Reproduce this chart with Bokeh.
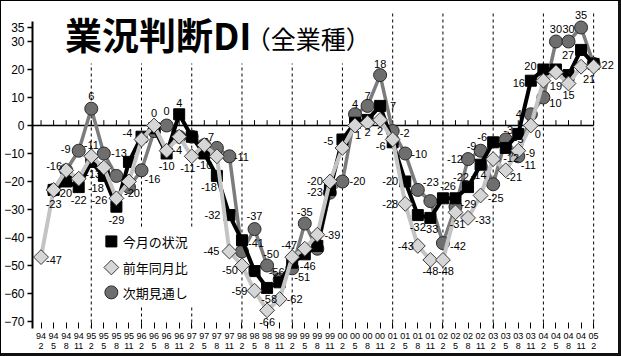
import math
from bokeh.plotting import figure
from bokeh.models import (FixedTicker, Range1d, BoxAnnotation, Label, ColumnDataSource)
from bokeh.embed import file_html
from bokeh.resources import INLINE
from bokeh.core.properties import value

NaN = float("nan")

# ---- categories (quarterly survey months, 94/2 .. 05/2)
years = ["94", "95", "96", "97", "98", "99", "00", "01", "02", "03", "04", "05"]
months = ["2", "5", "8", "11"]
periods = [(y, m) for y in years for m in months][:45]

# ---- series values
current = [NaN, -23, -20, -22, -13, -18, -29, -13, -4, -1, -10, 4, -4, -10, -18,
           -32, -41, -52, -58, -56, -49, -46, -43, -23, -5, 1, 2, 7, -6, -20,
           -32, -33, -26, -26, -22, -14, -6, -8, -3, 16, 20, 20, 18, 27, 22]
yoy = [-47, -23, -16, -19, -11, -15, -26, -20, -5, 0, -9, -4, -11, -7, -11,
       -45, -50, -59, -66, -62, -47, -44, -39, -20, -8, 0, 1, 2, -5, -28,
       -43, -48, -48, -31, -33, -25, -12, -16, -9, 0, 16, 19, 15, 21, 21]
outlook = [NaN, -23, -16, -9, 6, -10, -18, -22, -16, -2, 0, -4, -4, -7, -8,
           -11, -45, -37, -50, -55, -51, -35, -44, -24, -20, 4, 7, 18, -2, -10,
           -23, -27, -42, -29, -12, -9, -21, -5, -11, 4, 10, 30, 30, 35, 22]

series_names = ["今月の状況", "前年同月比", "次期見通し"]
y_ticks = [-70, -60, -50, -40, -30, -20, -10, 0, 10, 20, 30, 35]

# ---- label placement (layout only: index, dx px, dy px)
cur_lbl = [(1, 0, 14), (2, -2, 12), (3, 0, 13), (4, 2, 12), (5, -8, 12), (6, 0, 13),
           (7, -10, -9), (8, -14, -4), (10, 0, 13), (11, 0, -11), (13, 0, 12),
           (14, -8, 11), (15, -17, 0), (16, 14, 3), (18, 2, 11), (19, -3, -10),
           (21, 3, 12), (23, -15, 2), (24, -14, 2), (25, 3, 12), (26, 0, 12),
           (27, 13, 0), (28, -12, 4), (29, -15, 0), (30, 0, 12), (31, 0, 11),
           (32, 5, -12), (34, -7, -10), (35, -2, 10), (36, -11, -5), (38, -10, -4),
           (39, -12, 2), (40, -13, -3), (43, -13, 5)]
yoy_lbl = [(0, 13, 3), (2, -12, -4), (4, 0, -11), (6, -17, 2), (7, 3, 12), (9, 0, -12),
           (11, -2, 13), (12, -4, 12), (13, 5, -8), (15, -18, 0), (16, -12, 5),
           (17, -15, 0), (18, 0, 12), (19, 15, 0), (20, -3, -12), (22, 15, 0),
           (23, -15, 0), (27, 0, 11), (29, -15, 0), (30, -12, 0), (31, 0, 11),
           (32, 3, 11), (33, 2, 12), (34, 15, 2), (35, 15, 3), (36, 18, -1),
           (38, 12, 2), (39, 7, 9), (41, 0, 14), (42, 0, 12), (43, 8, 12)]
out_lbl = [(3, -13, -2), (4, 0, -13), (8, 11, 9), (10, 0, -14), (15, 12, 1),
           (17, 0, -13), (18, 4, -11), (20, 10, 9), (21, 0, -11), (24, 15, 0),
           (25, 0, -10), (26, 0, -10), (27, 0, -11), (28, 12, 2), (29, 14, 1),
           (30, 13, -8), (32, 15, 3), (33, 13, -3), (34, -13, 0), (35, -9, -5),
           (36, 21, -7), (37, 13, 0), (38, 10, 9), (39, -12, 0), (40, 12, 6),
           (41, 0, -12), (42, 0, -12), (43, 0, -12), (44, 14, 1)]

idx = list(range(len(periods)))
year_starts = [i for i, (y, m) in enumerate(periods) if m == "2" and i > 0]

X0, X1 = -0.68, 46.06
Y0, Y1 = -72.5, 43.57
GRID_TOP = 40.0

p = figure(width=621, height=356, x_range=Range1d(X0, X1), y_range=Range1d(Y0, Y1),
           output_backend="svg", toolbar_location=None,
           min_border_left=30, min_border_right=3, min_border_top=2, min_border_bottom=29)
p.styles = {"border-left": "1px solid #000", "border-top": "1px solid #000",
            "border-right": "3px solid #111", "border-bottom": "3px solid #111"}
p.outline_line_color = None
p.background_fill_color = "white"
p.border_fill_color = "white"
p.grid.grid_line_color = None

# dashed verticals at each year's February
p.segment(x0=year_starts, y0=[Y0] * len(year_starts), x1=year_starts,
          y1=[GRID_TOP] * len(year_starts), line_color="black", line_dash="3 3", line_width=1)

# axes
p.xaxis.ticker = FixedTicker(ticks=idx)
p.xaxis.major_label_overrides = {i: f"{y}\n{m}" for i, (y, m) in enumerate(periods)}
p.xaxis.axis_line_color = None
p.xaxis.major_tick_in = 6
p.xaxis.major_tick_out = 0
p.xaxis.major_tick_line_color = "black"
p.xaxis.minor_tick_line_color = None
p.xaxis.major_label_standoff = 2
p.xaxis.major_label_text_font = "'Liberation Sans Narrow', 'Liberation Sans'"
p.xaxis.major_label_text_font_size = "9px"
p.xaxis.major_label_text_line_height = 1.0
p.xaxis.major_label_text_color = "black"

p.yaxis.ticker = FixedTicker(ticks=y_ticks)
p.yaxis.bounds = (Y0, 37)
p.yaxis.axis_line_width = 2
p.yaxis.axis_line_color = "black"
p.yaxis.major_tick_in = 0
p.yaxis.major_tick_out = 5
p.yaxis.major_tick_line_width = 1.5
p.yaxis.minor_tick_line_color = None
p.yaxis.major_label_standoff = 3
p.yaxis.major_label_text_font = "Liberation Sans"
p.yaxis.major_label_text_font_size = "12px"
p.yaxis.major_label_text_color = "black"

# zero line with small upward ticks at each quarter
p.segment(x0=[X0], y0=[0], x1=[idx[-1]], y1=[0], line_color="black", line_width=1.5)
p.segment(x0=idx, y0=[0] * len(idx), x1=idx, y1=[1.9] * len(idx), line_color="black", line_width=1)

src = ColumnDataSource(dict(x=idx, cur=current, yoy=yoy, out=outlook))

OUT_STYLE = dict(marker="circle", size=13, fill_color="#6e6e6e", line_color="#2a2a2a", line_width=1)
CUR_STYLE = dict(marker="square", size=11, fill_color="black", line_color="black")
YOY_STYLE = dict(marker="square", angle=math.pi / 4, size=10.5, fill_color="#d6d6d6",
                 line_color="#3a3a3a", line_width=1)

# outlook (circles)
p.line("x", "out", source=src, line_color="#7c7c7c", line_width=3.5)
p.scatter("x", "out", source=src, **OUT_STYLE)
# current (squares)
p.line("x", "cur", source=src, line_color="black", line_width=4)
p.scatter("x", "cur", source=src, **CUR_STYLE)
# year-on-year (diamonds)
p.line("x", "yoy", source=src, line_color="#c4c4c4", line_width=4)
p.scatter("x", "yoy", source=src, **YOY_STYLE)

# value labels
def add_labels(vals, spec):
    xs, ys, ts, dx, dy = [], [], [], [], []
    for i, ox, oy in spec:
        v = vals[i]
        if v != v:
            continue
        xs.append(i); ys.append(v); ts.append(str(int(v)))
        dx.append(ox); dy.append(oy)
    s = ColumnDataSource(dict(x=xs, y=ys, t=ts, dx=dx, dy=dy))
    p.text("x", "y", text="t", source=s, x_offset="dx", y_offset="dy",
           text_align="center", text_baseline="middle",
           text_font=value("Liberation Sans"), text_font_size="11px", text_color="black")

add_labels(current, cur_lbl)
add_labels(yoy, yoy_lbl)
add_labels(outlook, out_lbl)

# legend (drawn as a key box inside the plot, above the dashed lines)
LEG_X, LEG_TX = 5.6, 6.5
LEG_Y = [-41.4, -50.7, -59.6]
p.quad(left=[4.7], right=[12.2], bottom=[-64.5], top=[-37.0],
       fill_color="white", fill_alpha=1, line_color=None)
p.scatter([LEG_X], [LEG_Y[0]], **CUR_STYLE)
p.scatter([LEG_X], [LEG_Y[1]], **YOY_STYLE)
p.scatter([LEG_X], [LEG_Y[2]], **OUT_STYLE)
p.text([LEG_TX] * 3, LEG_Y, text=series_names, text_align="left", text_baseline="middle",
       text_font=value("Noto Sans CJK JP"), text_font_size="13px", text_color="black")

# title mask and title
p.add_layout(BoxAnnotation(left=1.2, right=25.3, bottom=22.1, top=Y1 + 5,
                           fill_color="white", fill_alpha=1, line_color=None))
p.add_layout(Label(x=1.9, y=32.5, text="業況判断DI", text_font="Noto Sans CJK JP",
                   text_font_size="37px", text_font_style="bold", text_baseline="middle",
                   text_color="black"))
p.add_layout(Label(x=16.3, y=31.4, text="（全業種）", text_font="Noto Sans CJK JP",
                   text_font_size="25px", text_baseline="middle", text_color="black"))

open("out.html", "w").write(file_html(p, INLINE))
